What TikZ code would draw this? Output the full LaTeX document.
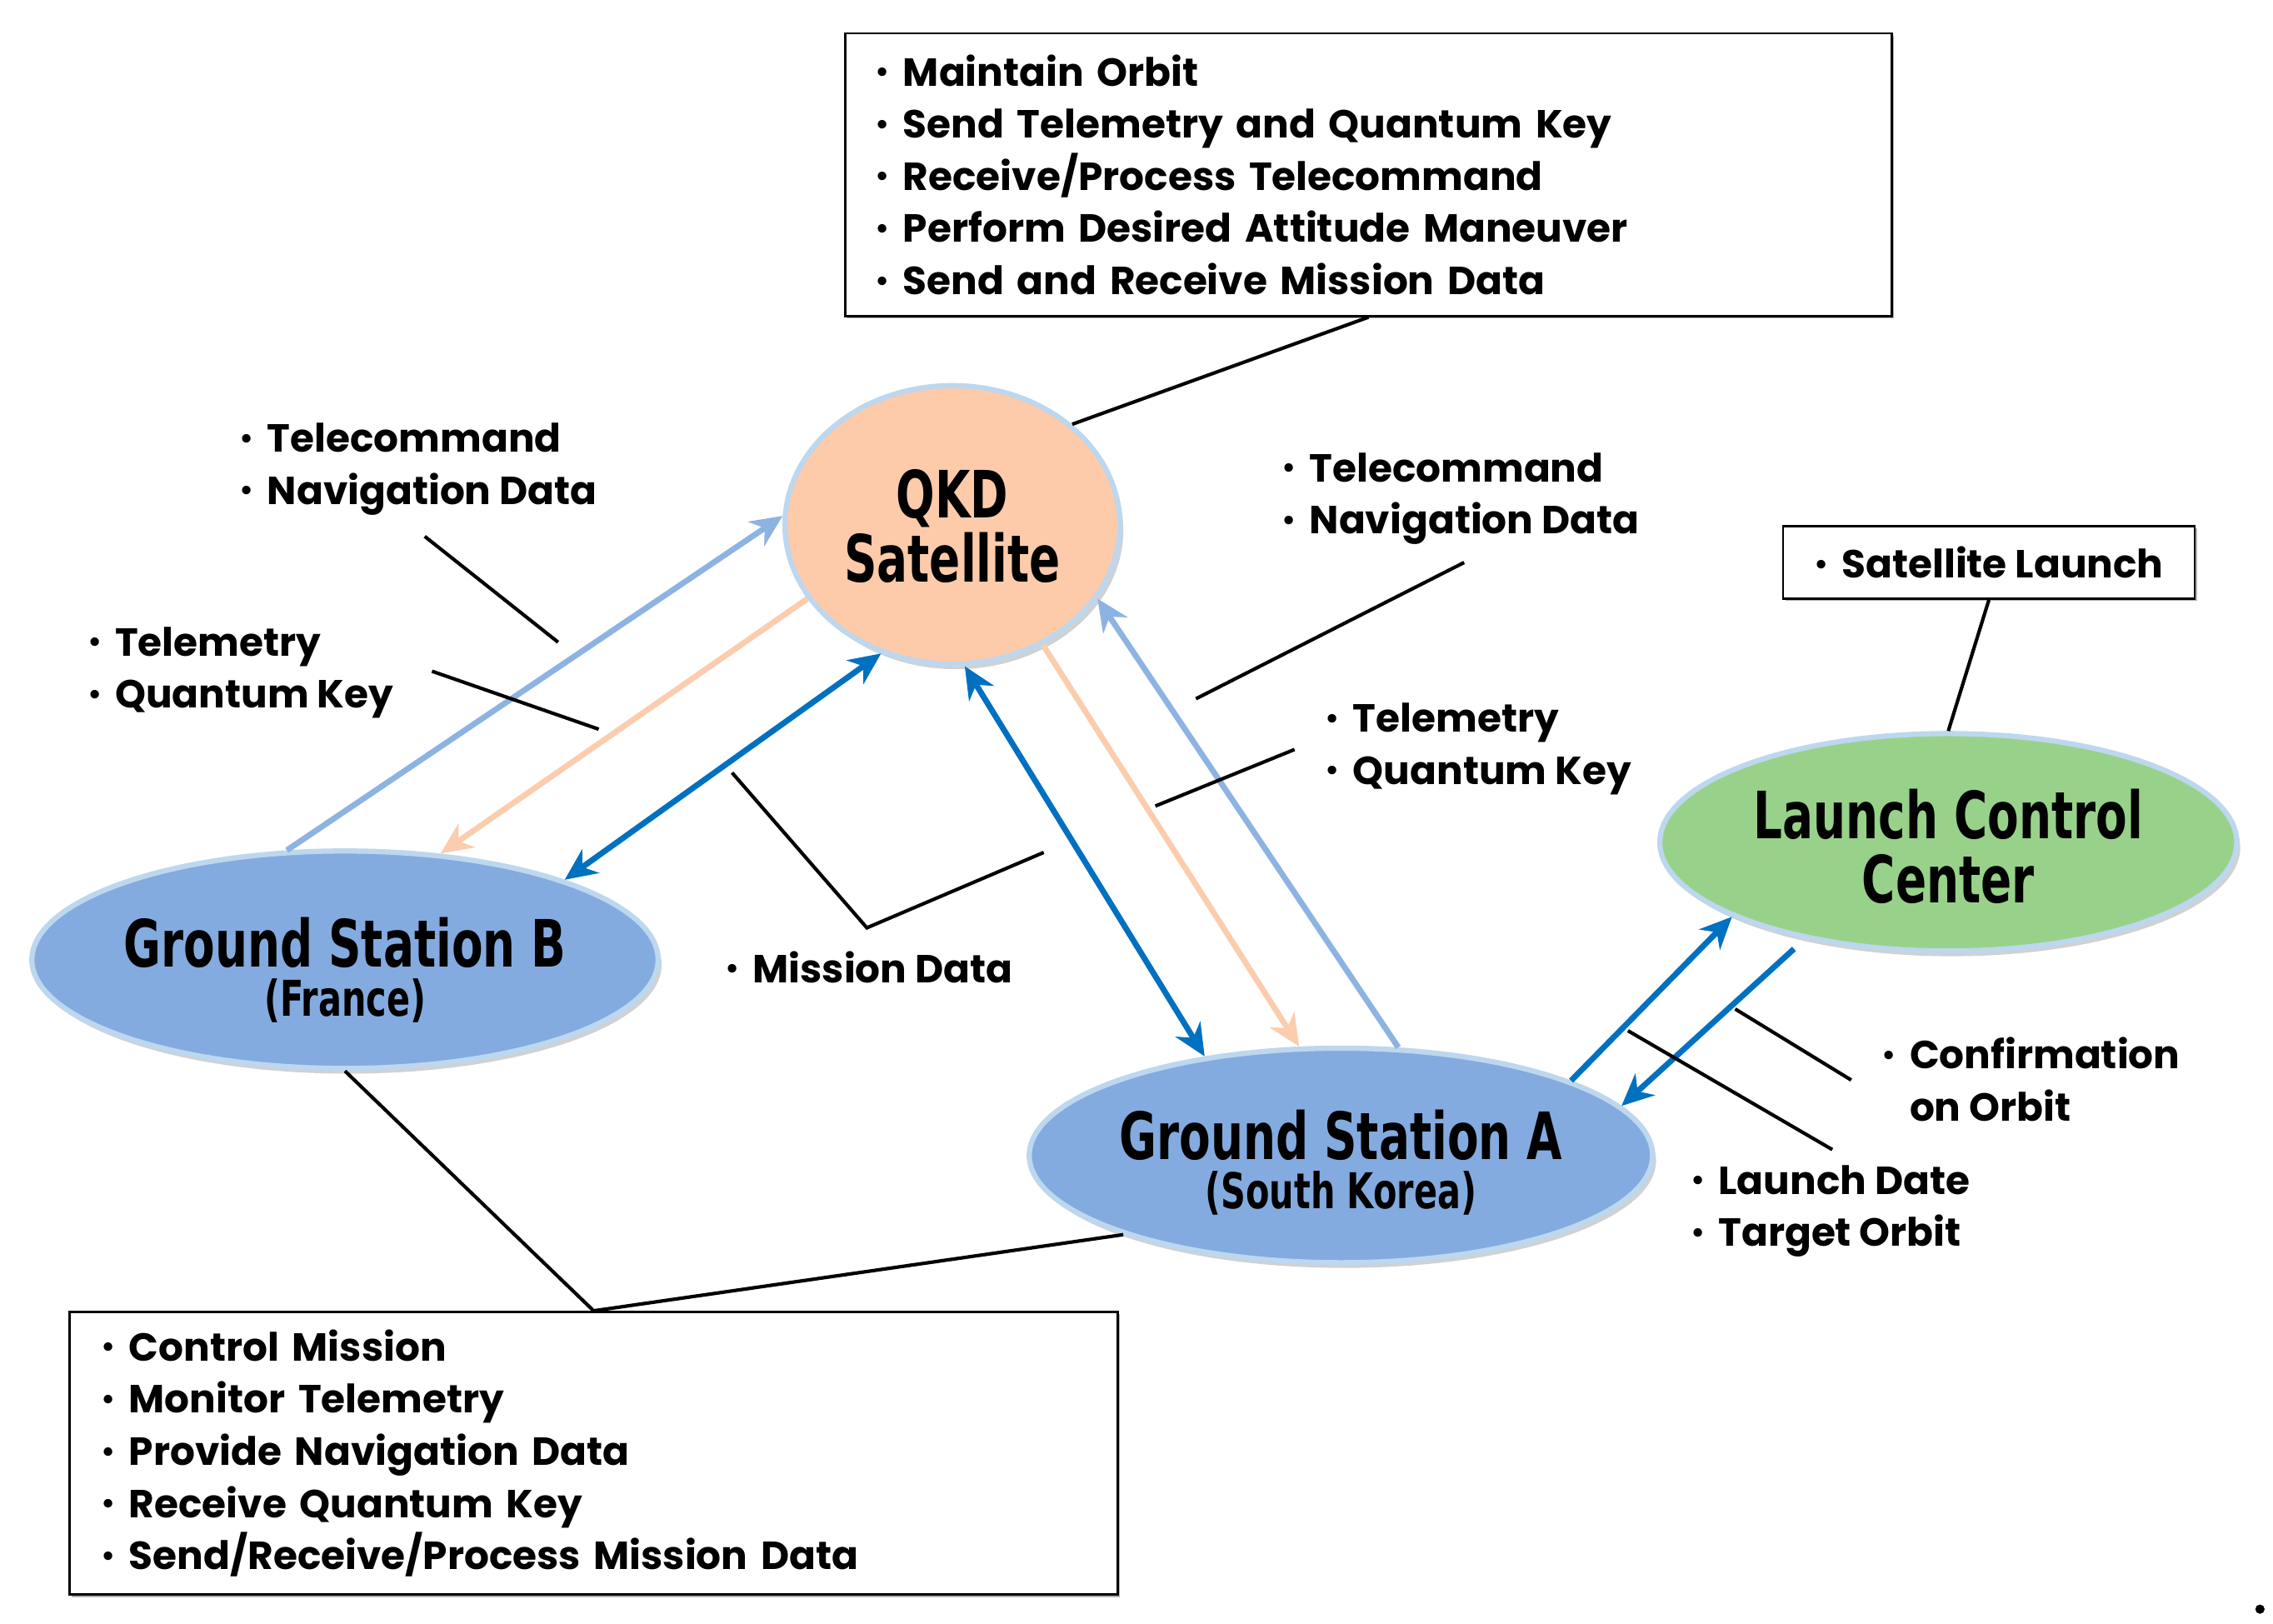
\documentclass[tikz,border=0pt]{standalone}
\usepackage{fontspec}
\setmainfont{Poppins}
\newfontfamily\titlefont{DejaVu Sans}[FakeStretch=0.7]
\usetikzlibrary{arrows.meta,shapes.geometric,shadows}
\definecolor{gsblue}{HTML}{84ABDF}
\definecolor{satpeach}{HTML}{FDCBAA}
\definecolor{lccgreen}{HTML}{98D28A}
\definecolor{rimblue}{HTML}{BDD7EE}
\definecolor{lightarrow}{HTML}{8DB3E2}
\definecolor{peacharrow}{HTML}{FBCDAE}
\definecolor{darkarrow}{HTML}{0070C0}
\newcommand{\myb}{\makebox[9.5pt][l]{\raisebox{0.05em}{\fontsize{12}{12}\selectfont\mdseries•}}}
\newcommand{\mysp}{\makebox[9.5pt][l]{}}
\begin{document}
\begin{tikzpicture}[x=0.5pt,y=-0.5pt,
  ell/.style={ellipse, draw=rimblue, line width=1.8pt, inner sep=0pt,
    drop shadow={shadow xshift=1.2pt, shadow yshift=-1.8pt, opacity=0.18, fill=black}},
  titletxt/.style={inner sep=0pt, align=center, font=\titlefont\bfseries\fontsize{22.5}{22}\selectfont},
  subtxt/.style={inner sep=0pt, font=\titlefont\bfseries\fontsize{17}{17}\selectfont},
  infobox/.style={draw=black, line width=0.8pt, fill=white, align=left, inner ysep=0pt,
    font=\bfseries\fontsize{13.5}{18}\selectfont,
    drop shadow={shadow xshift=0.8pt, shadow yshift=-0.8pt, opacity=0.3, fill=black}},
  lbl/.style={align=left, inner sep=0pt, anchor=west, font=\bfseries\fontsize{13.5}{18}\selectfont},
  tip/.style={-{Stealth[length=11pt,width=10pt,inset=3.5pt]}},
  bothtip/.style={{Stealth[length=11pt,width=10pt,inset=3.5pt]}-{Stealth[length=11pt,width=10pt,inset=3.5pt]}},
  lightarr/.style={tip, draw=lightarrow, line width=2pt},
  peacharr/.style={tip, draw=peacharrow, line width=2pt},
  darkarr/.style={tip, draw=darkarrow, line width=2pt},
  darkboth/.style={bothtip, draw=darkarrow, line width=2pt},
  leader/.style={draw=black, line width=1.2pt}]
\useasboundingbox (0,0) rectangle (1568,1120);

% boxes
\node[infobox, text width=340pt, inner xsep=10.5pt, minimum height=97.5pt] (topbox) at (944,120.5)
  {\myb Maintain Orbit\\ \myb Send Telemetry and Quantum Key\\ \myb Receive/Process Telecommand\\ \myb Perform Desired Attitude Maneuver\\ \myb Send and Receive Mission Data};
\node[infobox, text width=339.5pt, inner xsep=11pt, minimum height=97.5pt] (botbox) at (409.5,1002.5)
  {\myb Control Mission\\ \myb Monitor Telemetry\\ \myb Provide Navigation Data\\ \myb Receive Quantum Key\\ \myb Send/Receive/Process Mission Data};
\node[infobox, inner xsep=0pt, minimum width=142pt, minimum height=25pt] (slbox) at (1372,388)
  {\myb Satellite Launch};

% ellipses
\node[ell, fill=satpeach, minimum width=115.5pt, minimum height=96pt] (sat) at (657,362) {};
\node[ell, fill=gsblue, minimum width=216pt, minimum height=75pt] (gsb) at (238,662) {};
\node[ell, fill=gsblue, minimum width=215pt, minimum height=74pt] (gsa) at (925,797) {};
\node[ell, fill=lccgreen, minimum width=199pt, minimum height=75pt] (lcc) at (1344,581) {};

% ellipse texts
\node[titletxt] (satT) at (657,363) {QKD\\Satellite};
\node[titletxt] (gsbT) at (238,650) {Ground Station B};
\node[subtxt] (gsbS) at (238,690) {(France)};
\node[titletxt] (gsaT) at (925,783) {Ground Station A};
\node[subtxt] (gsaS) at (925,823) {(South Korea)};
\node[titletxt] (lccT) at (1344,584) {Launch Control\\Center};

% box leaders
\draw[leader] (topbox.south) -- (sat.40);
\draw[leader] (slbox.south) -- (lcc.90);
\draw[leader] (gsb.270) -- (botbox.north) -- (gsa.200);

% arrows
\draw[lightarr] (gsb.118) -- (sat.177);
\draw[peacharr] (sat.207) -- (gsb.48);
\draw[darkboth] (gsb.20.4) -- (sat.241);
\draw[darkboth] (sat.275) -- (gsa.144.2);
\draw[peacharr] (sat.307) -- (gsa.111.8);
\draw[lightarr] (gsa.62.6) -- (sat.333.4);
\draw[darkarr] (gsa.18.5) -- (lcc.199.5);
\draw[darkarr, shorten <=5pt] (lcc.214.9) -- (gsa.10.6);

% labels
\node[lbl] (l1) at (165,323.5) {\myb Telecommand\\ \myb Navigation Data};
\node[lbl] (l2) at (60,464) {\myb Telemetry\\ \myb Quantum Key};
\node[lbl] (l3) at (500,667) {\myb Mission Data};
\node[lbl] (l4) at (884,344) {\myb Telecommand\\ \myb Navigation Data};
\node[lbl] (l5) at (914,516.5) {\myb Telemetry\\ \myb Quantum Key};
\node[lbl] (l6) at (1298,744.5) {\myb Confirmation\\ \mysp on Orbit};
\node[lbl] (l7) at (1166,835.5) {\myb Launch Date\\ \myb Target Orbit};

% label leaders
\coordinate (c1a) at (293,370); \coordinate (c1b) at (385,443);
\coordinate (c2a) at (298,463); \coordinate (c2b) at (413,503);
\coordinate (c3a) at (505,533); \coordinate (c3b) at (598,640); \coordinate (c3c) at (720,588);
\coordinate (c4a) at (1010,388); \coordinate (c4b) at (825,482);
\coordinate (c5a) at (893,517); \coordinate (c5b) at (797,556);
\coordinate (c6a) at (1277,745); \coordinate (c6b) at (1197,696);
\coordinate (c7a) at (1264,793); \coordinate (c7b) at (1123,711);
\draw[leader] (c1a) -- (c1b);
\draw[leader] (c2a) -- (c2b);
\draw[leader] (c3a) -- (c3b) -- (c3c);
\draw[leader] (c4a) -- (c4b);
\draw[leader] (c5a) -- (c5b);
\draw[leader] (c6a) -- (c6b);
\draw[leader] (c7a) -- (c7b);

\fill (1559,1110) circle[radius=1.6pt];
\end{tikzpicture}
\end{document}
